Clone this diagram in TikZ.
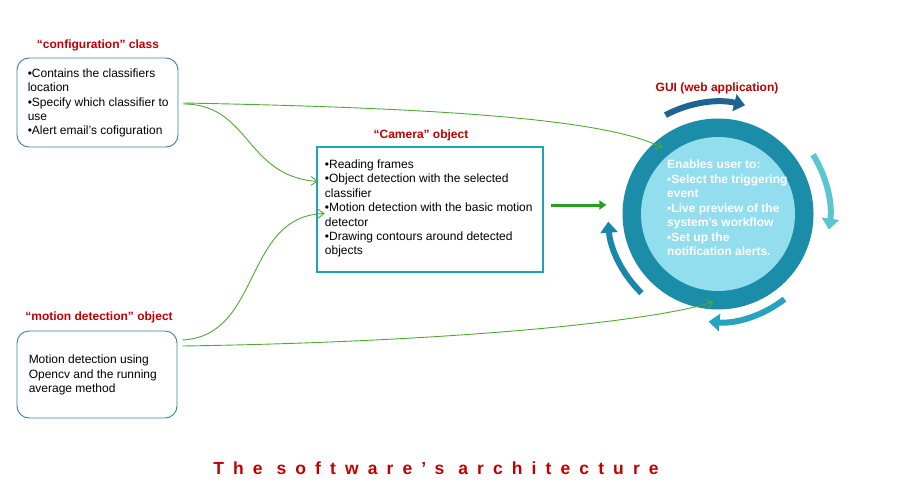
\documentclass[tikz,border=0pt]{standalone}
\usepackage{fontspec}
\setmainfont{Liberation Sans}
\usetikzlibrary{arrows.meta,calc}
\definecolor{titlered}{RGB}{192,0,0}
\definecolor{boxteal}{RGB}{49,132,155}
\definecolor{camteal}{RGB}{35,160,190}
\definecolor{ringcol}{RGB}{27,141,168}
\definecolor{innercol}{RGB}{146,222,238}
\definecolor{thingreen}{RGB}{80,170,50}
\definecolor{thickgreen}{RGB}{40,160,30}
\definecolor{arrtop}{RGB}{31,100,145}
\definecolor{arrright}{RGB}{91,197,208}
\definecolor{arrbottom}{RGB}{37,164,194}
\definecolor{arrleft}{RGB}{24,136,170}
\begin{document}
\begin{tikzpicture}[x=1pt,y=-1pt,
  titletext/.style={text=titlered,font=\fontsize{12}{14}\selectfont\bfseries,inner sep=0},
  bodytext/.style={align=left,font=\fontsize{12}{14.2}\selectfont,inner sep=0,anchor=west},
  roundbox/.style={draw=boxteal,line width=0.9pt,rounded corners=12pt,inner sep=0},
  cambox/.style={draw=camteal,line width=2.5pt,inner sep=0},
  link/.style={draw=thingreen,line width=0.9pt,-{Straight Barb[length=6pt,width=9pt]}},
  ringarrow/.style={line width=6pt,-{Triangle[length=11pt,width=17pt]}}
]
\useasboundingbox (0,0) rectangle (901,492);

% configuration class
\node[titletext] (cfgtitle) at (98,45) {“configuration” class};
\node[roundbox,minimum width=161pt,minimum height=89pt] (cfg) at (97.5,102.5) {};
\node[bodytext] (cfgtext) at ($(cfg.west)+(11,0.5)$) {•Contains the classifiers\\location\\•Specify which classifier to\\use\\•Alert email's cofiguration};

% camera object
\node[titletext] (camtitle) at (421,135) {“Camera” object};
\node[cambox,minimum width=226pt,minimum height=125pt] (cam) at (430,209.5) {};
\node[bodytext,font=\fontsize{12}{14.4}\selectfont] (camtext) at ($(cam.west)+(9,-1)$) {•Reading frames\\•Object detection with the selected\\classifier\\•Motion detection with the basic motion\\detector\\•Drawing contours around detected\\objects};

% motion detection object
\node[titletext] (mottitle) at (99,317) {“motion detection” object};
\node[roundbox,minimum width=160pt,minimum height=87pt] (mot) at (97,374.5) {};
\node[bodytext] (mottext) at ($(mot.west)+(12,0.5)$) {Motion detection using\\Opencv and the running\\average method};

% GUI circle
\node[titletext] (guititle) at (717,88) {GUI (web application)};
\node[circle,fill=ringcol,minimum size=191pt,inner sep=0] (gui) at (718,214) {};
\node[circle,fill=innercol,minimum size=154pt,inner sep=0] (guiin) at (718,214) {};
\node[bodytext,text=white,font=\fontsize{12}{14.5}\selectfont\bfseries] (guitext) at (667,208) {Enables user to:\\▪Select the triggering\\event\\▪Live preview of the\\system’s workflow\\▪Set up the\\notification alerts.};

% ring arrows
\draw[ringarrow,arrtop] ($(gui.center)+(-118:112)$) arc[start angle=-118,end angle=-76,radius=112];
\draw[ringarrow,arrright] ($(gui.center)+(-32:112)$) arc[start angle=-32,end angle=8,radius=112];
\draw[ringarrow,arrbottom] ($(gui.center)+(52:108)$) arc[start angle=52,end angle=95,radius=108];
\draw[ringarrow,arrleft] ($(gui.center)+(134:110)$) arc[start angle=134,end angle=176,radius=110];

% thick green arrow
\draw[thickgreen,line width=3pt,-{Triangle[length=7pt,width=9pt]}] ($(cam.east)+(7,-4.5)$) -- ($(gui.west)+(-16,-9)$);

% thin connectors
\coordinate (g1) at ($(gui.center)!0.9!(gui.130)$);
\coordinate (g2) at ($(gui.center)!0.92!(gui.-93)$);
\draw[link] ($(cfg.east)+(5,0.5)$) .. controls (450,108) and (610,120) .. (g1);
\draw[link] ($(cfg.east)+(5,1.5)$) .. controls (250,104) and (245,176) .. ($(cam.west)+(2,-28)$);
\draw[link] ($(mot.east)+(5,-34.5)$) .. controls (262,336) and (243,216) .. ($(cam.west)+(9,4)$);
\draw[link] ($(mot.east)+(5,-28.5)$) .. controls (450,342) and (650,322) .. (g2);

% bottom title
\node[text=titlered,inner sep=0,font=\fontsize{17.5}{20}\selectfont\bfseries\addfontfeatures{LetterSpace=52}] (maintitle) at (436,468) {The software’s architecture};
\end{tikzpicture}
\end{document}
